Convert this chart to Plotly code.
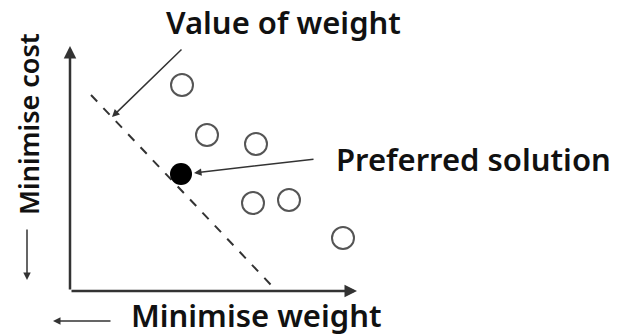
import plotly.graph_objects as go

# abstract trade-off space: x = weight, y = cost (origin at the axes corner)
other_x = [112, 137, 186, 183, 219, 273]
other_y = [206, 156, 147, 88, 91, 53]
preferred_x = [111]
preferred_y = [117]
weight_line_x = [21, 202]
weight_line_y = [196, 5]

ink = "#333333"
font = dict(family="Noto Sans", size=31, color="#111111", weight=600)
vfont = dict(family="Noto Sans", size=27, color="#111111", weight=600)

fig = go.Figure()

fig.add_trace(go.Scatter(x=weight_line_x, y=weight_line_y, mode="lines",
                         line=dict(color=ink, width=2, dash="dash")))
fig.add_trace(go.Scatter(x=other_x, y=other_y, mode="markers",
                         marker=dict(symbol="circle-open", size=22, color="#555555",
                                     line=dict(width=2))))
fig.add_trace(go.Scatter(x=preferred_x, y=preferred_y, mode="markers",
                         marker=dict(symbol="circle", size=22, color="black")))

# axes drawn as arrows
for ax_, ay_, x_, y_ in [(0, 0, 0, 245), (0, 0, 287, 0)]:
    fig.add_annotation(x=x_, y=y_, ax=ax_, ay=ay_, xref="x", yref="y", axref="x", ayref="y",
                       text="", showarrow=True, arrowhead=2, arrowsize=1, arrowwidth=2.5,
                       arrowcolor=ink)

# callouts
fig.add_annotation(x=42, y=174, ax=113, ay=243, xref="x", yref="y", axref="x", ayref="y",
                   text="", showarrow=True, arrowhead=2, arrowwidth=1.5, arrowcolor=ink)
fig.add_annotation(x=124, y=118, ax=245, ay=132, xref="x", yref="y", axref="x", ayref="y",
                   text="", showarrow=True, arrowhead=2, arrowwidth=1.5, arrowcolor=ink)
fig.add_annotation(x=94, y=269, xanchor="left", text="Value of weight", showarrow=False, font=font)
fig.add_annotation(x=264, y=132, xanchor="left", text="Preferred solution", showarrow=False, font=font)

# direction hints
fig.add_annotation(x=59, y=-24, xanchor="left", text="Minimise weight", showarrow=False, font=font)
fig.add_annotation(x=-17, y=-30, ax=42, ay=-30, xref="x", yref="y", axref="x", ayref="y",
                   text="", showarrow=True, arrowhead=2, arrowwidth=1.5, arrowcolor=ink)
fig.add_annotation(x=-42, y=167, text="Minimise cost", textangle=-90, showarrow=False, font=vfont)
fig.add_annotation(x=-43, y=11, ax=-43, ay=63, xref="x", yref="y", axref="x", ayref="y",
                   text="", showarrow=True, arrowhead=2, arrowwidth=1.5, arrowcolor=ink)

fig.update_xaxes(range=[-70, 554], visible=False)
fig.update_yaxes(range=[-45, 291], visible=False)
fig.update_layout(width=624, height=336, margin=dict(l=0, r=0, t=0, b=0),
                  showlegend=False, plot_bgcolor="white", paper_bgcolor="white")

fig.write_html("out.html", config={"displayModeBar": False},
               post_script="document.body.style.margin='0';")
